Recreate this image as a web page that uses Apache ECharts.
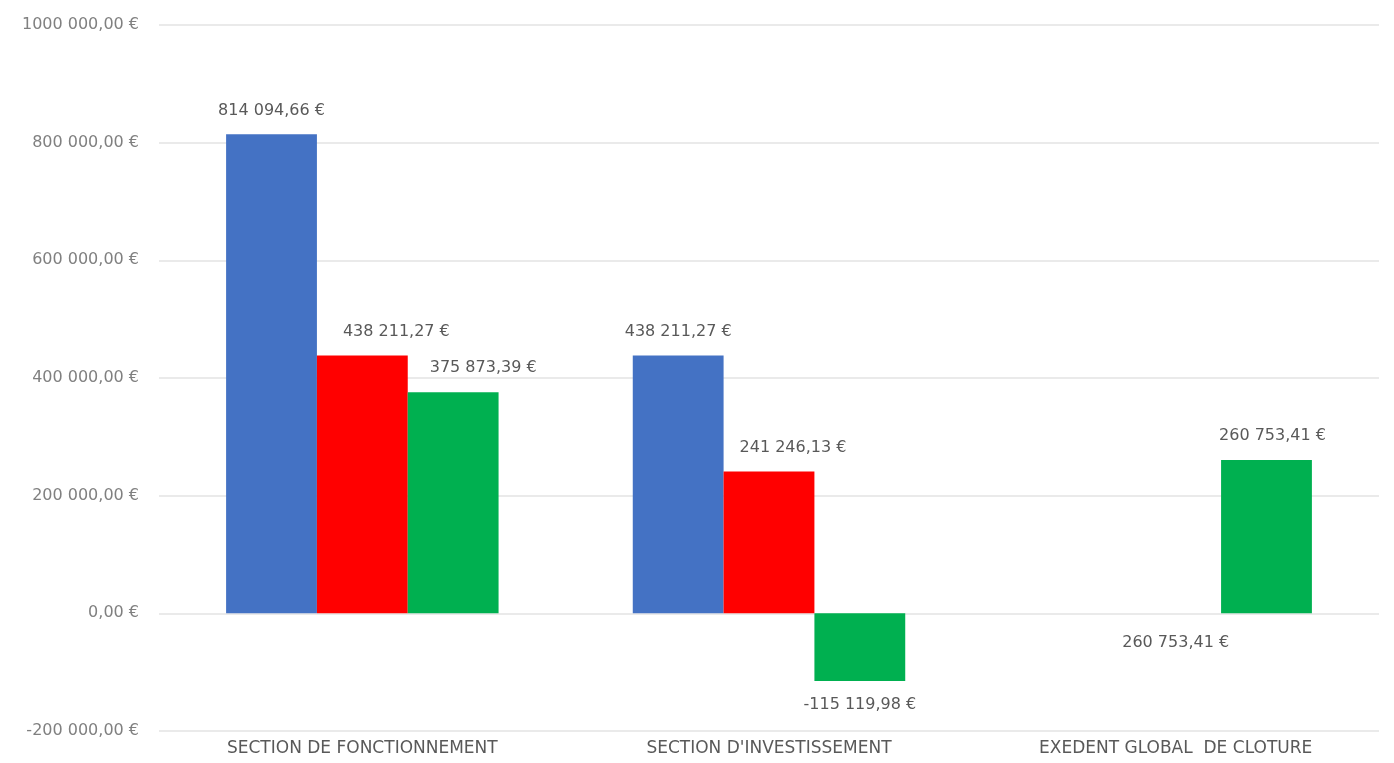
<!DOCTYPE html>
<html><head><meta charset="utf-8">
<script src="https://cdn.jsdelivr.net/npm/echarts@6/dist/echarts.min.js"></script>
<style>html,body{margin:0;padding:0;background:#fff}#c{width:1394px;height:763px}</style>
</head><body><div id="c"></div>
<script>
const categories = ["SECTION DE FONCTIONNEMENT", "SECTION D'INVESTISSEMENT", "EXEDENT GLOBAL  DE CLOTURE"];
const seriesNames = ["Recettes", "Dépenses", "Résultat"];
const recettes = [814094.66, 438211.27, null];
const depenses = [438211.27, 241246.13, 0];
const resultat = [375873.39, -115119.98, 260753.41];
const depensesLabelText = [null, null, "260 753,41 €"];
const yTicks = [-200000, 0, 200000, 400000, 600000, 800000, 1000000];

function fmt(v){
  const neg = v < 0; v = Math.abs(v);
  let s = v.toFixed(2).split('.');
  let i = s[0].replace(/\B(?=(\d{3})+(?!\d))/g, ' ');
  return (neg ? '-' : '') + i + ',' + s[1] + ' €';
}
const FONT = 'DejaVu Sans';
const chart = echarts.init(document.getElementById('c'));
const lbl = {show:true, position:'top', color:'#595959', fontFamily:FONT, fontSize:16, distance:16};
function mk(name, data, color, extra){
  return {
    name, type:'bar', data, barGap:'0%', barCategoryGap:'33%',
    itemStyle:{color},
    label:Object.assign({}, lbl, extra || {}, {
      formatter: p => p.value == null ? '' : fmt(p.value)
    })
  };
}
const redOffsets = [[34,0],[24,0],[0,0]];
const greenOffsets = [[30,0],[0,0],[6,0]];
const sRec = mk(seriesNames[0], recettes, '#4472C4');
const sDep = mk(seriesNames[1], depenses.map((v,i)=> depensesLabelText[i]
  ? {value:v, label:{position:'bottom', distance:22, offset:redOffsets[i], formatter: depensesLabelText[i]}}
  : {value:v, label:{offset:redOffsets[i]}}), '#FF0000');
const sRes = mk(seriesNames[2], resultat.map((v,i) => v < 0
  ? {value:v, label:{position:'bottom', distance:16, offset:greenOffsets[i]}}
  : {value:v, label:{offset:greenOffsets[i]}}), '#00B050');
chart.setOption({
  animation:false,
  grid:{left:159, right:15, top:25, bottom:32},
  xAxis:{type:'category', data:categories,
    axisLine:{show:false}, axisTick:{show:false},
    axisLabel:{color:'#595959', fontFamily:FONT, fontSize:17, margin:9, interval:0}},
  yAxis:{type:'value', min:yTicks[0], max:yTicks[yTicks.length-1], interval:200000,
    axisLine:{show:false}, axisTick:{show:false},
    splitLine:{lineStyle:{color:'#e3e3e3', width:1.5}},
    axisLabel:{color:'#808080', fontFamily:FONT, fontSize:16, margin:20,
      formatter: v => fmt(v).replace('1 000 000','1000 000')}},
  series:[sRec, sDep, sRes]
});
</script></body></html>
